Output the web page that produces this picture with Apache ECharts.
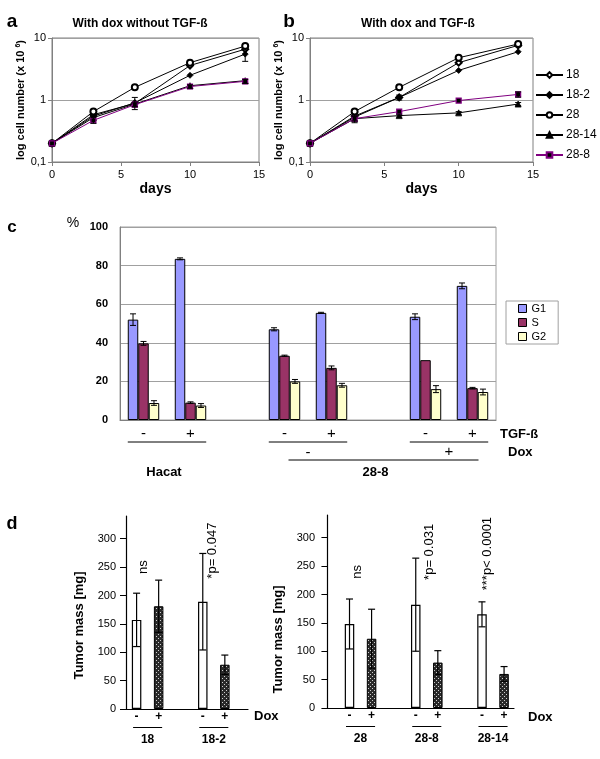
<!DOCTYPE html>
<html><head><meta charset="utf-8">
<script src="https://cdn.jsdelivr.net/npm/echarts@6/dist/echarts.min.js"></script>
<style>html,body{margin:0;padding:0;background:#fff}#c{width:600px;height:759px}</style>
</head><body><div id="c"></div>
<script>
const FONT = '"Liberation Sans", Arial, sans-serif';

// ---- panels a / b : growth curves (cells x 10^6) ----
const days = [0, 3, 6, 10, 14];
const lineNames = ['18', '18-2', '28', '28-14', '28-8'];
// a: with dox, without TGF-ß
const a18    = [0.2, 0.58, 0.88, 3.6, 6.6];
const a18_2  = [0.2, 0.55, 0.90, 2.5, 5.5];
const a28    = [0.2, 0.65, 1.60, 4.0, 7.4];
const a28_14 = [0.2, 0.52, 0.86, 1.70, 2.05];
const a28_8  = [0.2, 0.47, 0.84, 1.65, 2.0];
const a18_2Err = [0, 0, 0.2, 0, 1.3];
const a28_8Err = [0, 0.05, 0.06, 0.1, 0.15];
// b: with dox and TGF-ß
const b18    = [0.2, 0.55, 1.10, 4.0, 7.6];
const b18_2  = [0.2, 0.53, 1.10, 3.0, 6.0];
const b28    = [0.2, 0.65, 1.60, 4.8, 8.0];
const b28_14 = [0.2, 0.50, 0.56, 0.62, 0.86];
const b28_8  = [0.2, 0.50, 0.65, 0.98, 1.23];
const b18_2Err  = [0, 0, 0.1, 0, 0];
const b28_14Err = [0, 0.07, 0.03, 0.03, 0.05];
const b28_8Err  = [0, 0.04, 0, 0, 0.12];

// ---- panel c : cell cycle (%) ----
const cycleCats = ['-', '+', '', '-', '+', '', '-', '+'];
const phaseNames = ['G1', 'S', 'G2'];
const g1Pct  = [52, 83.5, null, 47, 55.5, null, 53.5, 69.5];
const g1Err  = [3, 0.5, null, 0.8, 0.3, null, 1.5, 1.5];
const sPct   = [39.7, 9, null, 33.3, 27, null, 31, 16.5];
const sErr   = [1, 0.4, null, 0.3, 1, null, 0, 0.4];
const g2Pct  = [8.8, 7.5, null, 20, 18, null, 16, 14.5];
const g2Err  = [1.2, 1, null, 1, 1, null, 1.8, 1.5];

// ---- panel d : tumor mass (mg) ----
const massTicks = [0, 50, 100, 150, 200, 250, 300];
const dLeftPos   = [1, 2, 4, 5];
const dLeftDox   = ['-', '+', '-', '+'];
const dLeftMass  = [157, 181, 189, 78];
const dLeftErr   = [47, 46, 85, 17];
const dLeftGroups = ['18', '18-2'];
const dLeftP     = ['ns', '*p= 0.047'];
const dRightPos  = [1, 2, 4, 5, 7, 8];
const dRightDox  = ['-', '+', '-', '+', '-', '+'];
const dRightMass = [148, 122, 182, 80, 165, 60];
const dRightErr  = [44, 52, 82, 21, 22, 13];
const dRightGroups = ['28', '28-8', '28-14'];
const dRightP    = ['ns', '*p= 0.031', '***p< 0.0001'];

// ---------------------------------------------------------------
const chart = echarts.init(document.getElementById('c'));

function hatch() {
  const c = document.createElement('canvas'); c.width = 4; c.height = 4;
  const x = c.getContext('2d');
  x.fillStyle = '#2a2a2a'; x.fillRect(0, 0, 4, 4);
  x.fillStyle = '#d0d0d0'; x.fillRect(0, 0, 1, 1); x.fillRect(2, 2, 1, 1);
  return c;
}
const hatchFill = { image: hatch(), repeat: 'repeat' };

const styles = {
  '18':    { symbol: 'emptyDiamond', size: 6, line: '#000' },
  '18-2':  { symbol: 'diamond', size: 6, line: '#000' },
  '28':    { symbol: 'emptyCircle', size: 6, line: '#000' },
  '28-14': { symbol: 'triangle', size: 6, line: '#000' },
  '28-8':  { symbol: 'rect', size: 5, line: '#800080' }
};

function lineSeries(name, vals, gi) {
  const s = styles[name];
  return {
    type: 'line', name, xAxisIndex: gi, yAxisIndex: gi,
    data: days.map((d, i) => [d, vals[i]]),
    symbol: s.symbol, symbolSize: s.size, showSymbol: true,
    lineStyle: { color: s.line, width: 1 },
    itemStyle: name === '28-8' ? { color: '#000', borderColor: '#800080', borderWidth: 1.2 }
                               : { color: '#000', borderColor: '#000', borderWidth: 0.8 },
    z: name === '28-8' ? 4 : 3, animation: false
  };
}

function errLineSeries(gi, vals, errs, color) {
  const data = days.map((d, i) => [d, vals[i], errs[i]]).filter(d => d[2] > 0);
  return {
    type: 'custom', xAxisIndex: gi, yAxisIndex: gi, data, silent: true, z: 6,
    renderItem(p, api) {
      const x = api.value(0), y = api.value(1), e = api.value(2);
      const hi = api.coord([x, y + e]), lo = api.coord([x, Math.max(y - e, 0.11)]);
      const w = 3, st = { stroke: color, lineWidth: 1 };
      return { type: 'group', children: [
        { type: 'line', shape: { x1: hi[0], y1: hi[1], x2: lo[0], y2: lo[1] }, style: st },
        { type: 'line', shape: { x1: hi[0] - w, y1: hi[1], x2: hi[0] + w, y2: hi[1] }, style: st },
        { type: 'line', shape: { x1: lo[0] - w, y1: lo[1], x2: lo[0] + w, y2: lo[1] }, style: st }
      ]};
    }
  };
}

function logY(gi) {
  return {
    type: 'log', logBase: 10, min: 0.1, max: 10, gridIndex: gi,
    name: 'log cell number (x 10 {sup|6})', nameLocation: 'middle', nameGap: 22,
    nameTextStyle: { fontFamily: FONT, fontSize: 11, fontWeight: 'bold', color: '#000',
      rich: { sup: { fontFamily: FONT, fontSize: 7, fontWeight: 'bold', color: '#000', padding: [0, 0, 6, 0] } } },
    axisLine: { show: true, lineStyle: { color: '#808080' } },
    axisTick: { show: true, length: 4, lineStyle: { color: '#808080' } },
    axisLabel: { fontFamily: FONT, fontSize: 11, color: '#000', margin: 6,
      formatter: v => (v < 0.5 ? '0,1' : String(Math.round(v))) },
    splitLine: { show: true, lineStyle: { color: '#a0a0a0' } }
  };
}
function daysX(gi) {
  return {
    type: 'value', min: 0, max: 15, interval: 5, gridIndex: gi,
    name: 'days', nameLocation: 'middle', nameGap: 20,
    nameTextStyle: { fontFamily: FONT, fontSize: 14, fontWeight: 'bold', color: '#000' },
    axisLine: { lineStyle: { color: '#808080' } },
    axisTick: { show: true, length: 4, lineStyle: { color: '#808080' } },
    axisLabel: { fontFamily: FONT, fontSize: 11, color: '#000', margin: 7 },
    splitLine: { show: false }
  };
}

const phaseVals = [g1Pct, sPct, g2Pct];
const phaseErrs = [g1Err, sErr, g2Err];
const phaseColors = ['#9999FF', '#993366', '#FFFFCC'];
const BARFRAC = 0.223;

function dBars(gi, pos, dox, mass) {
  return {
    type: 'bar', xAxisIndex: gi, yAxisIndex: gi, barWidth: 9.5, animation: false,
    data: pos.map((p, i) => ({ value: [p, mass[i]],
      itemStyle: dox[i] === '+' ? { color: hatchFill, borderColor: '#000', borderWidth: 1 }
                                : { color: '#fff', borderColor: '#000', borderWidth: 1.2 } }))
  };
}
function dErr(gi, pos, mass, err) {
  return {
    type: 'custom', xAxisIndex: gi, yAxisIndex: gi, silent: true, z: 6,
    data: pos.map((p, i) => [p, mass[i], err[i]]),
    renderItem(pa, api) {
      const x = api.value(0), y = api.value(1), e = api.value(2);
      const hi = api.coord([x, y + e]), lo = api.coord([x, y - e]);
      const w = 3.5, st = { stroke: '#000', lineWidth: 1.2 };
      return { type: 'group', children: [
        { type: 'line', shape: { x1: hi[0], y1: hi[1], x2: lo[0], y2: lo[1] }, style: st },
        { type: 'line', shape: { x1: hi[0] - w, y1: hi[1], x2: hi[0] + w, y2: hi[1] }, style: st },
        { type: 'line', shape: { x1: lo[0] - w, y1: lo[1], x2: lo[0] + w, y2: lo[1] }, style: st }
      ]};
    }
  };
}
function massY(gi, pad) {
  return {
    type: 'value', gridIndex: gi, min: 0, max: 340, interval: 50,
    name: 'Tumor mass [mg]', nameLocation: 'middle', nameGap: 40,
    nameTextStyle: { fontFamily: FONT, fontSize: 13, fontWeight: 'bold', color: '#000', padding: [0, pad, 0, 0] },
    axisLine: { show: true, lineStyle: { color: '#000', width: 1.2 } },
    axisTick: { show: true, length: 6, customValues: massTicks, lineStyle: { color: '#000' } },
    axisLabel: { fontFamily: FONT, fontSize: 11, color: '#000', margin: 10, customValues: massTicks },
    splitLine: { show: false }
  };
}
function doxX(gi, max, min, pos, dox) {
  return {
    type: 'value', gridIndex: gi, min, max,
    axisLine: { show: true, onZero: false, lineStyle: { color: '#000', width: 1.2 } },
    axisTick: { show: false },
    axisLabel: { fontFamily: FONT, fontSize: 12, fontWeight: 'bold', color: '#000', margin: 2,
      customValues: pos, formatter: v => dox[pos.indexOf(v)] || '' },
    splitLine: { show: false }
  };
}

const option = {
  animation: false,
  backgroundColor: '#fff',
  textStyle: { fontFamily: FONT },
  grid: [
    { left: 52, top: 38, width: 207, height: 124, show: true, borderColor: '#808080', borderWidth: 1 },
    { left: 310, top: 38, width: 223, height: 124, show: true, borderColor: '#808080', borderWidth: 1 },
    { left: 120, top: 227, width: 376, height: 193, show: true, borderColor: '#a0a0a0', borderWidth: 1 },
    { left: 126, top: 516, width: 122, height: 193 },
    { left: 325, top: 515, width: 189, height: 193 }
  ],
  title: [
    { text: 'With dox without TGF-ß', left: 135, top: 13, textAlign: 'center',
      textStyle: { fontFamily: FONT, fontSize: 12, fontWeight: 'bold', color: '#000' } },
    { text: 'With dox and TGF-ß', left: 413, top: 13, textAlign: 'center',
      textStyle: { fontFamily: FONT, fontSize: 12, fontWeight: 'bold', color: '#000' } }
  ],
  legend: [
    { data: lineNames.slice(), orient: 'vertical', left: 535, top: 69, padding: 0,
      itemWidth: 27, itemHeight: 7, itemGap: 8,
      textStyle: { fontFamily: FONT, fontSize: 12, color: '#000', padding: [0, 0, 0, -2] }, selectedMode: false },
    { data: phaseNames.slice(), orient: 'vertical', left: 506, top: 301, icon: 'rect', itemWidth: 8, itemHeight: 8,
      itemGap: 3, itemStyle: { borderColor: '#000', borderWidth: 1 },
      padding: [2, 12, 2, 12], borderColor: '#a0a0a0', borderWidth: 1,
      textStyle: { fontFamily: FONT, fontSize: 11, color: '#000' }, selectedMode: false }
  ],
  xAxis: [
    daysX(0), daysX(1),
    { type: 'category', gridIndex: 2, data: cycleCats,
      axisLine: { lineStyle: { color: '#808080' } }, axisTick: { show: false },
      axisLabel: { fontFamily: FONT, fontSize: 15, color: '#000', margin: 6, interval: 0 } },
    doxX(3, 6.05, 0.52, dLeftPos, dLeftDox),
    doxX(4, 8.45, -0.11, dRightPos, dRightDox)
  ],
  yAxis: [
    logY(0), logY(1),
    { type: 'value', gridIndex: 2, min: 0, max: 100, interval: 20,
      axisLine: { show: true, lineStyle: { color: '#808080' } }, axisTick: { show: false },
      axisLabel: { fontFamily: FONT, fontSize: 11, fontWeight: 'bold', color: '#000', margin: 12 },
      splitLine: { lineStyle: { color: '#a0a0a0' } } },
    massY(3, 26), massY(4, 56)
  ],
  series: [
    lineSeries('18', a18, 0), lineSeries('18-2', a18_2, 0), lineSeries('28', a28, 0),
    lineSeries('28-14', a28_14, 0), lineSeries('28-8', a28_8, 0),
    errLineSeries(0, a18_2, a18_2Err, '#000'), errLineSeries(0, a28_8, a28_8Err, '#000'),
    lineSeries('18', b18, 1), lineSeries('18-2', b18_2, 1), lineSeries('28', b28, 1),
    lineSeries('28-14', b28_14, 1), lineSeries('28-8', b28_8, 1),
    errLineSeries(1, b18_2, b18_2Err, '#000'), errLineSeries(1, b28_14, b28_14Err, '#000'),
    errLineSeries(1, b28_8, b28_8Err, '#000'),
    ...phaseNames.map((n, k) => ({
      type: 'bar', name: n, xAxisIndex: 2, yAxisIndex: 2, data: phaseVals[k],
      barWidth: (BARFRAC * 100) + '%', barGap: '0%',
      itemStyle: { color: phaseColors[k], borderColor: '#000', borderWidth: 1 }
    })),
    {
      type: 'custom', xAxisIndex: 2, yAxisIndex: 2, silent: true, z: 6,
      data: phaseNames.flatMap((n, k) => phaseVals[k].map((v, i) => [i, v, phaseErrs[k][i], k]))
        .filter(d => d[1] != null && d[2] > 0),
      renderItem(p, api) {
        const i = api.value(0), v = api.value(1), e = api.value(2), k = api.value(3);
        const bw = api.size([1, 0])[0] * BARFRAC;
        const c0 = api.coord([i, v + e]), c1 = api.coord([i, v - e]);
        const x = c0[0] + (k - 1) * bw, w = 3, st = { stroke: '#000', lineWidth: 1 };
        return { type: 'group', children: [
          { type: 'line', shape: { x1: x, y1: c0[1], x2: x, y2: c1[1] }, style: st },
          { type: 'line', shape: { x1: x - w, y1: c0[1], x2: x + w, y2: c0[1] }, style: st },
          { type: 'line', shape: { x1: x - w, y1: c1[1], x2: x + w, y2: c1[1] }, style: st }
        ]};
      }
    },
    dBars(3, dLeftPos, dLeftDox, dLeftMass), dErr(3, dLeftPos, dLeftMass, dLeftErr),
    dBars(4, dRightPos, dRightDox, dRightMass), dErr(4, dRightPos, dRightMass, dRightErr)
  ]
};
chart.setOption(option);

// ---- annotations placed through the axes ----
const P = (gi, x, y) => chart.convertToPixel({ gridIndex: gi }, [x, y]);
const txt = (text, x, y, font, align, extra) => Object.assign({ type: 'text', x, y,
  style: { text, font, fill: '#000', align: align || 'center', verticalAlign: 'middle' } }, extra || {});
const ln = (x1, y1, x2, y2) => ({ type: 'line', shape: { x1, y1, x2, y2 }, style: { stroke: '#000', lineWidth: 1 } });
const BOLD = (s) => 'bold ' + s + 'px ' + FONT;
const REG = (s) => s + 'px ' + FONT;

const g = [];
g.push(txt('a', 12, 22, BOLD(19)), txt('b', 289, 22, BOLD(19)), txt('c', 12, 227, BOLD(17)), txt('d', 12, 524, BOLD(18)));
g.push(txt('%', 73, 223, REG(14)));

// panel c rows
const cc = i => P(2, i, 0)[0];
const bw = (cc(1) - cc(0)) * BARFRAC;
const axY = P(2, 0, 0)[1];
g.push(txt('TGF-ß', 500, axY + 14, BOLD(13), 'left'));
[[0, 1], [3, 4], [6, 7]].forEach(([a, b]) => g.push(ln(cc(a) - 1.5 * bw, axY + 22, cc(b) + 1.5 * bw, axY + 22)));
g.push(txt('-', (cc(3) + cc(4)) / 2, axY + 33, REG(15)), txt('+', (cc(6) + cc(7)) / 2, axY + 32, REG(15)));
g.push(txt('Dox', 508, axY + 32, BOLD(13), 'left'));
g.push(ln(cc(3) + 4, axY + 40, cc(7) + 6, axY + 40));
g.push(txt('Hacat', (cc(0) + cc(1)) / 2 - 3, axY + 52, BOLD(13)), txt('28-8', (cc(3) + cc(7)) / 2 - 3, axY + 52, BOLD(13)));

// panel d groups
function dAnnot(gi, pos, groups, pvals, pPos) {
  const base = P(gi, 0, 0)[1];
  groups.forEach((name, j) => {
    const x1 = P(gi, pos[2 * j], 0)[0], x2 = P(gi, pos[2 * j + 1], 0)[0];
    g.push(ln(x1 - 3.5, base + 18.5, x2 + 3.5, base + 18.5));
    g.push(txt(name, (x1 + x2) / 2, base + 31, BOLD(12)));
  });
  pvals.forEach((t, j) => {
    const c = P(gi, pPos[j][0], pPos[j][1]);
    g.push(txt(t, c[0], c[1], REG(13), 'center', { rotation: Math.PI / 2 }));
  });
  return base;
}
const bL = dAnnot(3, dLeftPos, dLeftGroups, dLeftP, [[1.3, 250], [4.45, 279]]);
const bR = dAnnot(4, dRightPos, dRightGroups, dRightP, [[1.35, 240], [4.6, 275], [7.25, 272]]);
g.push(txt('Dox', 254, bL + 7, BOLD(13), 'left'), txt('Dox', 528, bR + 9, BOLD(13), 'left'));

chart.setOption({ graphic: g });
</script></body></html>
